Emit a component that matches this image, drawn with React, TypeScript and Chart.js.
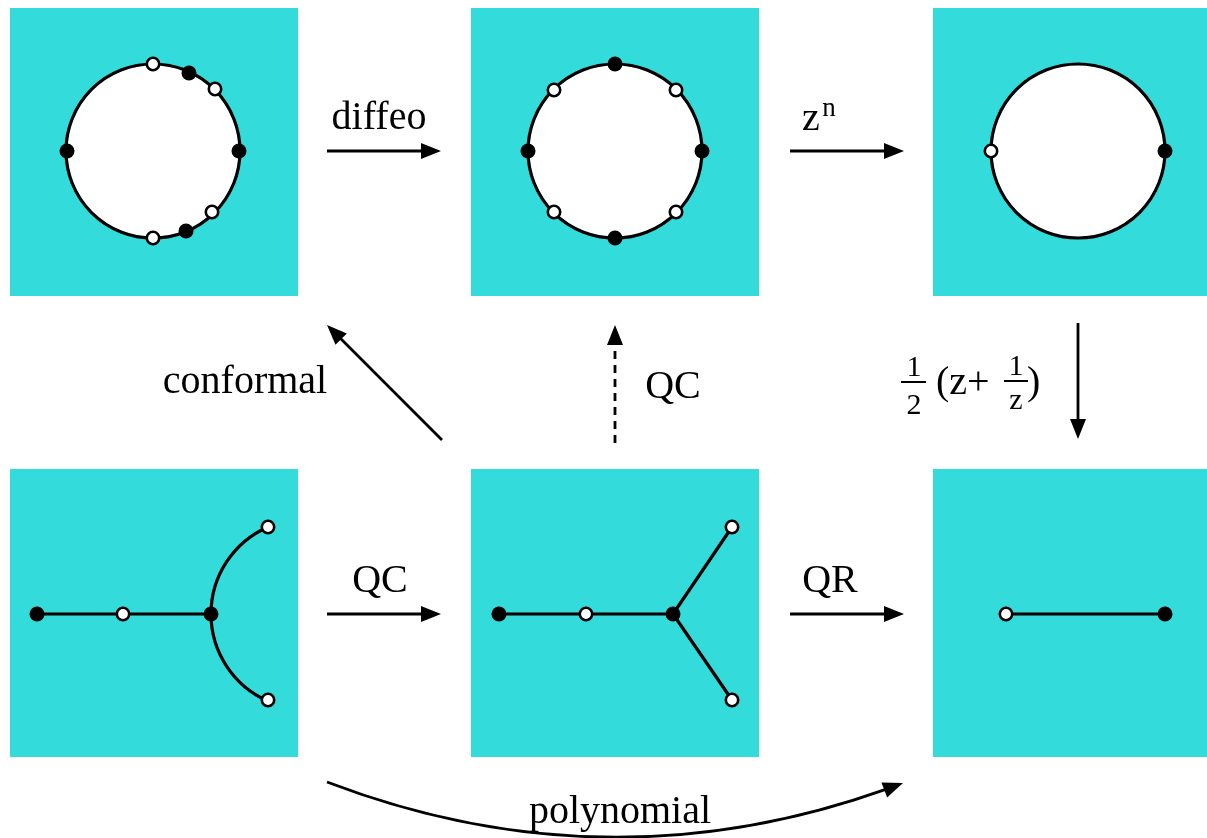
import React, { useEffect, useRef } from "react";
import { Chart, registerables } from "chart.js";

Chart.register(...registerables);

// ---- canvas / coordinate frame (data units = diagram units) ----
const FRAME_W = 1207;
const FRAME_H = 838;

// ---- panels (cyan squares) ----
const PANEL_X = [10, 471, 933];
const PANEL_Y = [8, 469];
const PANEL_SIZE = 288;

// ---- white discs (top row) ----
const RING_CX = [153, 615, 1078];
const RING_CY = [151, 151, 151];
const RING_R = [87, 87, 87];

// ---- curved branches (bottom-left panel) ----
const ARC_CX = [306, 306];
const ARC_CY = [614, 614];
const ARC_R = [95, 95];
const ARC_START_DEG = [180, 113.6];
const ARC_END_DEG = [246.4, 180];

// ---- straight edges ----
const EDGES: [number, number, number, number][] = [
  [37, 614, 211, 614],
  [499, 614, 673, 614],
  [673, 614, 732, 527],
  [673, 614, 732, 700],
  [1006, 614, 1165, 614],
];

// ---- nodes ----
const FILLED_NODES: [number, number][] = [
  [67, 151], [239, 151], [189, 73], [186, 231],
  [528, 151], [702, 151], [615, 64], [615, 238],
  [1165, 151],
  [37, 614], [211, 614],
  [499, 614], [673, 614],
  [1165, 614],
];
const OPEN_NODES: [number, number][] = [
  [153, 64], [215, 89], [212, 212], [153, 238],
  [554, 90], [676, 90], [554, 212], [676, 212],
  [991, 151],
  [123, 614], [268, 527], [268, 700],
  [586, 614], [732, 527], [732, 700],
  [1006, 614],
];

// ---- straight arrows: from -> to ----
const ARROW_FROM: [number, number][] = [
  [327, 151], [790, 151], [1078, 323], [615, 443], [442, 440], [327, 614], [790, 614],
];
const ARROW_TO: [number, number][] = [
  [441, 151], [904, 151], [1078, 439], [615, 325], [327, 325], [441, 614], [904, 614],
];
const ARROW_DASHED = [false, false, false, true, false, false, false];

// ---- curved arrow (polynomial) ----
const CURVE_FROM: [number, number] = [327, 782];
const CURVE_CTRL: [number, number] = [615, 892];
const CURVE_TO: [number, number] = [903, 783];

// ---- labels ----
const LABEL_TEXT = ["diffeo", "z", "n", "conformal", "QC", "QC", "QR", "polynomial", "1", "2", "(z+", "1", "z", ")"];
const LABEL_X = [379, 811, 829, 245, 673, 380, 830, 620, 914, 914, 936, 1016, 1016, 1027];
const LABEL_Y = [129, 130, 116, 393, 398, 592, 592, 823, 376, 414, 394, 375, 409, 394];
const LABEL_SIZE = [40, 40, 27, 40, 40, 40, 40, 40, 30, 30, 40, 30, 30, 40];
const LABEL_ALIGN = ["center", "center", "center", "center", "center", "center", "center", "center", "center", "center", "left", "center", "center", "left"];

// ---- fraction bars ----
const BAR_FROM: [number, number][] = [[901, 382], [1004, 381]];
const BAR_TO: [number, number][] = [[926, 382], [1028, 381]];

const CYAN = "rgb(51, 219, 219)";
const INK = "#000";
const FONT = '"Liberation Serif", "Times New Roman", serif';

function drawHead(ctx: CanvasRenderingContext2D, tx: number, ty: number, ang: number) {
  const L = 20;
  const w = 8;
  const cx = Math.cos(ang);
  const sy = Math.sin(ang);
  ctx.beginPath();
  ctx.moveTo(tx, ty);
  ctx.lineTo(tx - L * cx - w * sy, ty - L * sy + w * cx);
  ctx.lineTo(tx - L * cx + w * sy, ty - L * sy - w * cx);
  ctx.closePath();
  ctx.fillStyle = INK;
  ctx.fill();
}

const diagramPlugin = {
  id: "diagram",
  beforeDatasetsDraw(chart: any) {
    const ctx: CanvasRenderingContext2D = chart.ctx;
    const xs = chart.scales.x;
    const ys = chart.scales.y;
    const px = (v: number) => xs.getPixelForValue(v);
    const py = (v: number) => ys.getPixelForValue(v);
    const len = (r: number) => Math.abs(px(r) - px(0));

    ctx.save();
    // panels
    ctx.fillStyle = CYAN;
    for (const y0 of PANEL_Y) {
      for (const x0 of PANEL_X) {
        const x1 = px(x0), y1 = py(y0);
        ctx.fillRect(x1, y1, px(x0 + PANEL_SIZE) - x1, py(y0 + PANEL_SIZE) - y1);
      }
    }
    // discs
    for (let i = 0; i < RING_CX.length; i++) {
      ctx.beginPath();
      ctx.arc(px(RING_CX[i]), py(RING_CY[i]), len(RING_R[i]), 0, Math.PI * 2);
      ctx.fillStyle = "#fff";
      ctx.fill();
      ctx.lineWidth = 3.2;
      ctx.strokeStyle = INK;
      ctx.stroke();
    }
    // arcs
    for (let i = 0; i < ARC_CX.length; i++) {
      ctx.beginPath();
      ctx.arc(px(ARC_CX[i]), py(ARC_CY[i]), len(ARC_R[i]), (ARC_START_DEG[i] * Math.PI) / 180, (ARC_END_DEG[i] * Math.PI) / 180);
      ctx.lineWidth = 3.2;
      ctx.strokeStyle = INK;
      ctx.stroke();
    }
    // straight arrows
    for (let i = 0; i < ARROW_FROM.length; i++) {
      const x0 = px(ARROW_FROM[i][0]), y0 = py(ARROW_FROM[i][1]);
      const x1 = px(ARROW_TO[i][0]), y1 = py(ARROW_TO[i][1]);
      const ang = Math.atan2(y1 - y0, x1 - x0);
      ctx.beginPath();
      ctx.setLineDash(ARROW_DASHED[i] ? [8, 6] : []);
      ctx.moveTo(x0, y0);
      ctx.lineTo(x1 - 16 * Math.cos(ang), y1 - 16 * Math.sin(ang));
      ctx.lineWidth = 2.8;
      ctx.strokeStyle = INK;
      ctx.stroke();
      ctx.setLineDash([]);
      drawHead(ctx, x1, y1, ang);
    }
    // curved arrow
    {
      const P0 = [px(CURVE_FROM[0]), py(CURVE_FROM[1])];
      const P1 = [px(CURVE_CTRL[0]), py(CURVE_CTRL[1])];
      const P2 = [px(CURVE_TO[0]), py(CURVE_TO[1])];
      const t = 0.97;
      const q0 = [P0[0] + t * (P1[0] - P0[0]), P0[1] + t * (P1[1] - P0[1])];
      const q1 = [P1[0] + t * (P2[0] - P1[0]), P1[1] + t * (P2[1] - P1[1])];
      const e = [q0[0] + t * (q1[0] - q0[0]), q0[1] + t * (q1[1] - q0[1])];
      ctx.beginPath();
      ctx.moveTo(P0[0], P0[1]);
      ctx.quadraticCurveTo(q0[0], q0[1], e[0], e[1]);
      ctx.lineWidth = 2.8;
      ctx.strokeStyle = INK;
      ctx.stroke();
      const ang = Math.atan2(P2[1] - P1[1], P2[0] - P1[0]);
      drawHead(ctx, P2[0], P2[1], ang);
    }
    // fraction bars
    for (let i = 0; i < BAR_FROM.length; i++) {
      ctx.beginPath();
      ctx.moveTo(px(BAR_FROM[i][0]), py(BAR_FROM[i][1]));
      ctx.lineTo(px(BAR_TO[i][0]), py(BAR_TO[i][1]));
      ctx.lineWidth = 2;
      ctx.strokeStyle = INK;
      ctx.stroke();
    }
    // labels
    ctx.fillStyle = INK;
    ctx.textBaseline = "alphabetic";
    for (let i = 0; i < LABEL_TEXT.length; i++) {
      ctx.font = `${LABEL_SIZE[i]}px ${FONT}`;
      ctx.textAlign = LABEL_ALIGN[i] as CanvasTextAlign;
      ctx.fillText(LABEL_TEXT[i], px(LABEL_X[i]), py(LABEL_Y[i]));
    }
    ctx.restore();
  },
};

export default function App() {
  const ref = useRef<HTMLCanvasElement>(null);
  useEffect(() => {
    document.body.style.margin = "0";
    const edgeSets = EDGES.map((e) => ({
      type: "line" as const,
      data: [{ x: e[0], y: e[1] }, { x: e[2], y: e[3] }],
      showLine: true,
      borderColor: INK,
      borderWidth: 3.2,
      pointRadius: 0,
      fill: false,
      order: 2,
    }));
    const chart = new Chart(ref.current as HTMLCanvasElement, {
      type: "scatter",
      data: {
        datasets: [
          {
            data: FILLED_NODES.map(([x, y]) => ({ x, y })),
            pointRadius: 7.5,
            pointBackgroundColor: INK,
            pointBorderColor: INK,
            pointBorderWidth: 0,
            order: 1,
          } as any,
          {
            data: OPEN_NODES.map(([x, y]) => ({ x, y })),
            pointRadius: 6.2,
            pointBackgroundColor: "#fff",
            pointBorderColor: INK,
            pointBorderWidth: 2.6,
            order: 1,
          } as any,
          ...edgeSets,
        ],
      },
      options: {
        responsive: false,
        animation: false,
        devicePixelRatio: 1,
        events: [],
        layout: { padding: 0, autoPadding: false },
        plugins: { legend: { display: false }, tooltip: { enabled: false } },
        scales: {
          x: { type: "linear", min: 0, max: FRAME_W, display: false },
          y: { type: "linear", min: 0, max: FRAME_H, reverse: true, display: false },
        },
      },
      plugins: [diagramPlugin],
    });
    return () => chart.destroy();
  }, []);
  return (
    <div style={{ position: "absolute", left: 0, top: 0, width: FRAME_W, height: FRAME_H, background: "#fff" }}>
      <canvas ref={ref} width={FRAME_W} height={FRAME_H} style={{ display: "block" }} />
    </div>
  );
}
